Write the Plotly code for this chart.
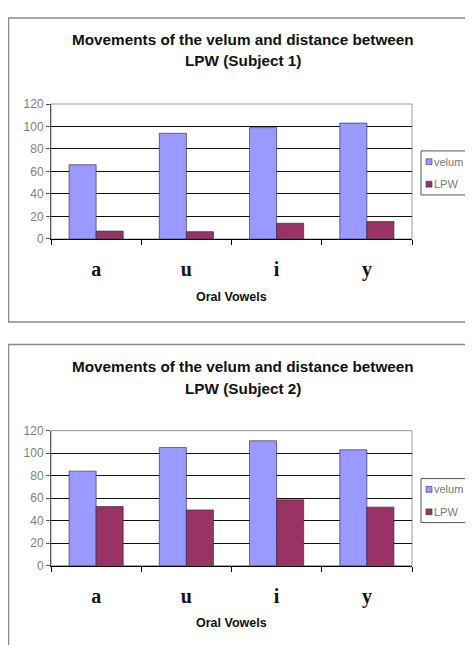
import plotly.graph_objects as go

# page body has an 8px margin: keep the figure inside the window
W, H = 457, 637
OFF = 8

categories = ["a", "u", "i", "y"]
velum_s1 = [66, 94, 99, 103]
lpw_s1 = [7, 6.5, 14, 15.5]
velum_s2 = [84, 105, 111, 103]
lpw_s2 = [52.5, 49.5, 58.5, 52]
y_ticks = [0, 20, 40, 60, 80, 100, 120]
series_names = ["velum", "LPW"]
series_colors = ["#9999FF", "#993366"]


def px(x):
    return (x - OFF) / W


def py(y):
    return 1 - (y - OFF) / H


fig = go.Figure()

charts = [
    dict(vel=velum_s1, lpw=lpw_s1, title2="LPW (Subject 1)", xa="x", ya="y",
         ytop=99, yzero=237, otop=11, obot=322, t1=33, t2=55, at=296, lt=147),
    dict(vel=velum_s2, lpw=lpw_s2, title2="LPW (Subject 2)", xa="x2", ya="y2",
         ytop=433, yzero=571, otop=345, obot=680, t1=367, t2=390, at=630, lt=482),
]

shapes = []
annotations = []
layout_axes = {}
TFONT = dict(family="Liberation Sans", size=15.3, color="#111111", weight="bold")

for k, c in enumerate(charts):
    for name, vals, col in zip(series_names, [c["vel"], c["lpw"]], series_colors):
        fig.add_trace(go.Bar(
            x=categories, y=vals, name=name, xaxis=c["xa"], yaxis=c["ya"],
            marker=dict(color=col, line=dict(color="#202040", width=0.6)),
            showlegend=False, hoverinfo="x+y+name",
        ))
    x0, x1 = 51, 412
    xkey = "xaxis" if k == 0 else "xaxis2"
    ykey = "yaxis" if k == 0 else "yaxis2"
    layout_axes[xkey] = dict(
        domain=[px(x0), px(x1)], anchor=c["ya"],
        showline=True, linecolor="#000000", linewidth=1,
        ticks="outside", tickson="boundaries", ticklen=5, tickcolor="#000000",
        tickfont=dict(family="Liberation Serif", size=20, color="#111111", weight="bold"),
        ticklabelstandoff=12,
        showgrid=False, zeroline=False, fixedrange=True,
    )
    layout_axes[ykey] = dict(
        domain=[py(c["yzero"]), py(c["ytop"])], anchor=c["xa"],
        range=[0, 120], tickvals=y_ticks,
        showline=True, linecolor="#555555", linewidth=1,
        ticks="outside", ticklen=4, tickcolor="#555555",
        tickfont=dict(family="Liberation Sans", size=12, color="#808080"),
        showgrid=True, gridcolor="#111111", gridwidth=1,
        zeroline=False, fixedrange=True,
    )
    shapes.append(dict(type="rect", xref="paper", yref="paper",
                       x0=px(x0), x1=px(x1), y0=py(c["yzero"]), y1=py(c["ytop"]),
                       line=dict(color="#999999", width=1), layer="below"))
    shapes.append(dict(type="rect", xref="paper", yref="paper",
                       x0=px(8.5), x1=px(490), y0=py(c["obot"]), y1=py(c["otop"]),
                       line=dict(color="#8a8a8a", width=1.5)))
    for line_text, yy in [("Movements of the velum and distance between", c["t1"]),
                          (c["title2"], c["t2"])]:
        annotations.append(dict(text=line_text, xref="paper", yref="paper",
                                x=px(243), y=py(yy), showarrow=False,
                                xanchor="center", yanchor="middle", font=TFONT))
    annotations.append(dict(text="Oral Vowels", xref="paper", yref="paper",
                            x=px(231), y=py(c["at"]), showarrow=False,
                            xanchor="center", yanchor="middle",
                            font=dict(family="Liberation Sans", size=12.5, color="#111111", weight="bold")))
    lt = c["lt"]
    shapes.append(dict(type="rect", xref="paper", yref="paper",
                       x0=px(421), x1=px(490), y0=py(lt + 45), y1=py(lt),
                       line=dict(color="#555555", width=1), fillcolor="white"))
    for j, (name, col) in enumerate(zip(series_names, series_colors)):
        cy = lt + 11 + j * 23
        shapes.append(dict(type="rect", xref="paper", yref="paper",
                           x0=px(426), x1=px(432), y0=py(cy + 3), y1=py(cy - 3),
                           line=dict(color="#333366", width=0.6), fillcolor=col))
        annotations.append(dict(text=name, xref="paper", yref="paper",
                                x=px(432), y=py(cy), showarrow=False,
                                xanchor="left", yanchor="middle",
                                font=dict(family="Liberation Sans", size=11, color="#777777")))

fig.update_layout(
    width=W, height=H,
    margin=dict(l=0, r=0, t=0, b=0),
    paper_bgcolor="white", plot_bgcolor="white",
    barmode="group", bargap=0.4, bargroupgap=0,
    shapes=shapes, annotations=annotations,
    showlegend=False,
    **layout_axes,
)

fig.write_html("out.html")
